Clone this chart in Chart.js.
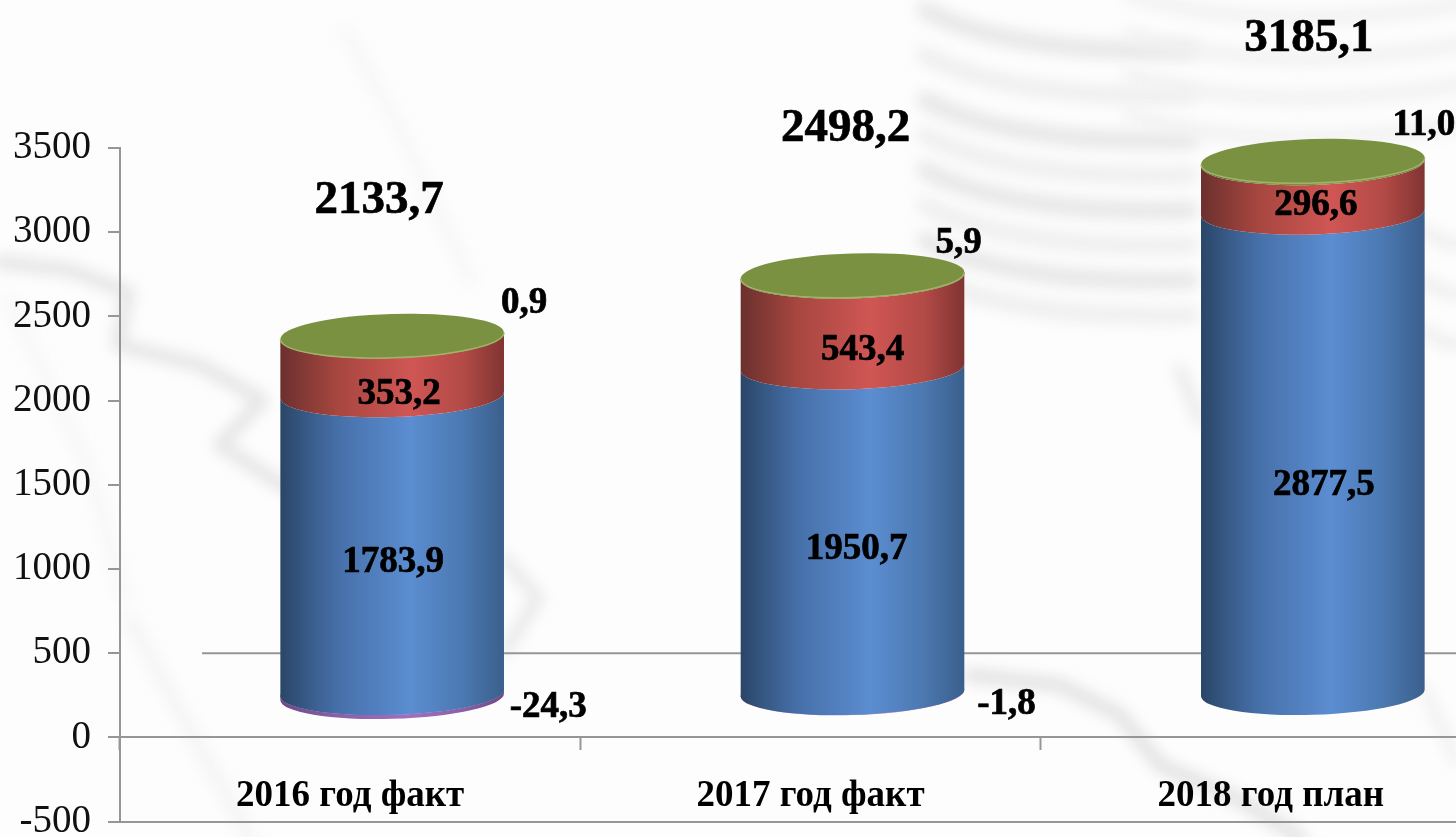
<!DOCTYPE html>
<html lang="ru">
<head>
<meta charset="utf-8">
<title>2016-2018</title>
<script src="https://cdn.jsdelivr.net/npm/chart.js@4/dist/chart.umd.min.js"></script>
<style>
    html, body { margin: 0; padding: 0; background: #fdfdfd; overflow: hidden; }
    #wrap { width: 1456px; height: 837px; overflow: hidden; }
    canvas { display: block; }
</style>
</head>
<body>
<div id="wrap"><canvas id="chart" width="1520" height="862"></canvas></div>
<script>
// Chart data
const categories = ['2016 год факт', '2017 год факт', '2018 год план'];
const blueValues = [1783.9, 1950.7, 2877.5];
const redValues = [353.2, 543.4, 296.6];
const greenValues = [0.9, 5.9, 11.0];
const purpleValues = [-24.3, -1.8, null];
const totals = [2133.7, 2498.2, 3185.1];

// Cylinder look
const depthX = 42;
const depthY = -45;
const capRy = 22;
const capTilt = -0.03;
const serif = '"Liberation Serif", "Times New Roman", serif';
const axisGrey = '#969696';

const shades = {
    blue: ['#2a4668', '#466fa8', '#5b8dd1', '#4b78b0', '#3a5f8c'],
    red: ['#6b302e', '#a6463f', '#d05654', '#b24a46', '#803432'],
    green: ['#5f7832', '#74903c', '#7c9644', '#74903c', '#5f7832'],
    purple: ['#6d4a86', '#8a5fa8', '#a070c0', '#8a5fa8', '#6d4a86']
};

// Hand placed labels, offsets from the middle of the segment
const labelNudge = {
    blue: [[1, 19], [4, 19], [11, 33]],
    red: [[7, 29], [10, 29], [3, 18]],
    green: [[132, -32], [106, -32], [111, -36]],
    purple: [[156, 15], [154, 12], [0, 0]],
    total: [[-13, -135], [-7, -147], [-4, -122]]
};

function formatValue(v) {
    return v.toFixed(1).replace('.', ',');
}

function sideGradient(ctx, cx, rx, stops) {
    const g = ctx.createLinearGradient(cx - rx, 0, cx + rx, 0);
    const at = [0, 0.25, 0.58, 0.82, 1];
    stops.forEach((c, i) => g.addColorStop(at[i], c));
    return g;
}

// Faint picture behind the chart
const backdropPlugin = {
    id: 'backdrop',
    beforeDraw(chart) {
        const ctx = chart.ctx;
        ctx.save();
        ctx.fillStyle = '#fdfdfd';
        ctx.fillRect(0, 0, chart.width, chart.height);
        ctx.filter = 'blur(7px)';
        ctx.lineCap = 'round';
        ctx.lineJoin = 'round';

        function stroke(color, width, pts) {
            ctx.strokeStyle = color;
            ctx.lineWidth = width;
            ctx.beginPath();
            pts.forEach((p, i) => i ? ctx.lineTo(p[0], p[1]) : ctx.moveTo(p[0], p[1]));
            ctx.stroke();
        }

        // price curve on the left
        stroke('#e4e4e4', 13, [[0, 262], [70, 270], [128, 292], [118, 345], [200, 365], [262, 400], [220, 445], [285, 487]]);
        stroke('#e8e8e8', 12, [[505, 560], [538, 598], [505, 650]]);
        stroke('#f4f4f4', 13, [[130, 620], [190, 730], [250, 837]]);
        stroke('#f6f6f6', 11, [[345, 30], [400, 130], [470, 280]]);
        stroke('#f6f6f6', 11, [[10, 300], [90, 470], [125, 600]]);
        // curve at the bottom right
        stroke('#e2e2e2', 14, [[970, 675], [1060, 685], [1120, 715], [1160, 765], [1240, 800], [1300, 837]]);
        stroke('#f0f0f0', 11, [[1425, 690], [1456, 760]]);
        stroke('#eaeaea', 12, [[1180, 370], [1200, 420]]);

        // coin stacks at the top right
        [10, 55, 100, 135, 170, 205, 240, 275].forEach((y, i) => {
            ctx.strokeStyle = i % 2 ? '#eeeeee' : '#e6e6e6';
            ctx.lineWidth = 17;
            ctx.beginPath();
            ctx.moveTo(925, y);
            ctx.quadraticCurveTo(1010, y + 45, 1190, y + 40);
            ctx.stroke();
        });
        [-5, 35, 75, 115].forEach(y => {
            ctx.strokeStyle = '#f1f1f1';
            ctx.lineWidth = 14;
            ctx.beginPath();
            ctx.moveTo(1130, y);
            ctx.quadraticCurveTo(1260, y + 40, 1460, y + 10);
            ctx.stroke();
        });
        [230, 280, 330].forEach(y => {
            ctx.strokeStyle = '#eeeeee';
            ctx.lineWidth = 12;
            ctx.beginPath();
            ctx.moveTo(1425, y);
            ctx.quadraticCurveTo(1440, y + 15, 1460, y + 14);
            ctx.stroke();
        });
        ctx.restore();
    }
};

// Draws the bar elements as cylinders
const cylinderPlugin = {
    id: 'cylinders',
    beforeDatasetsDraw(chart) {
        // the wall gridline starts behind the axis
        const y = chart.scales.y.getPixelForValue(500);
        const ctx = chart.ctx;
        ctx.save();
        ctx.strokeStyle = axisGrey;
        ctx.lineWidth = 2;
        ctx.beginPath();
        ctx.moveTo(chart.chartArea.left + 82, y);
        ctx.lineTo(chart.chartArea.right, y);
        ctx.stroke();
        ctx.restore();
    },
    afterDatasetsDraw(chart) {
        const ctx = chart.ctx;
        const drawOrder = [3, 0, 1, 2];
        drawOrder.forEach(di => {
            const ds = chart.data.datasets[di];
            chart.getDatasetMeta(di).data.forEach((bar, i) => {
                if (ds.data[i] === null) return;
                const cx = bar.x + depthX;
                const rx = bar.width / 2;
                const top = Math.min(bar.y, bar.base) + depthY;
                const bot = Math.max(bar.y, bar.base) + depthY;
                const fill = sideGradient(ctx, cx, rx, shades[ds.shade]);
                ctx.save();
                ctx.beginPath();
                ctx.ellipse(cx, bot, rx, capRy, capTilt, 0, Math.PI);
                ctx.ellipse(cx, top, rx, capRy, capTilt, Math.PI, 0, true);
                ctx.closePath();
                ctx.fillStyle = fill;
                ctx.fill();
                // no seam between the purple ring and the blue body
                if (ds.shade === 'purple') {
                    ctx.beginPath();
                    ctx.ellipse(cx, top, rx, capRy, capTilt, 0, Math.PI * 2);
                    ctx.fill();
                }
                // top of the stack
                if (ds.shade === 'green') {
                    ctx.beginPath();
                    ctx.ellipse(cx, top, rx, capRy, capTilt, 0, Math.PI * 2);
                    ctx.fillStyle = '#7a9142';
                    ctx.fill();
                    ctx.beginPath();
                    ctx.ellipse(cx, top, rx, capRy, capTilt, 0, Math.PI);
                    ctx.strokeStyle = '#a3b26a';
                    ctx.lineWidth = 1.5;
                    ctx.stroke();
                }
                ctx.restore();
            });
        });
    },
    afterDraw(chart) {
        const ctx = chart.ctx;
        ctx.save();
        ctx.fillStyle = '#000';
        ctx.strokeStyle = '#000';
        ctx.lineWidth = 0.7;
        ctx.textAlign = 'center';
        ctx.textBaseline = 'middle';

        function boldText(text, x, y) {
            ctx.fillText(text, x, y);
            ctx.strokeText(text, x, y);
        }

        chart.data.datasets.forEach((ds, di) => {
            chart.getDatasetMeta(di).data.forEach((bar, i) => {
                if (ds.data[i] === null) return;
                const nudge = labelNudge[ds.shade][i];
                let y = (bar.y + bar.base) / 2 + depthY;
                if (ds.shade === 'green') y = bar.y + depthY;
                if (ds.shade === 'purple') y = bar.base + depthY;
                ctx.font = 'bold 37px ' + serif;
                boldText(formatValue(ds.data[i]), bar.x + depthX + nudge[0], y + nudge[1]);
            });
        });

        // totals above each stack
        const topMeta = chart.getDatasetMeta(2);
        totals.forEach((t, i) => {
            const bar = topMeta.data[i];
            const nudge = labelNudge.total[i];
            ctx.font = 'bold 47px ' + serif;
            boldText(formatValue(t), bar.x + depthX + nudge[0], bar.y + depthY + nudge[1]);
        });
        ctx.restore();
    }
};

function makeDataset(data, shade) {
    return {
        data: data,
        shade: shade,
        yAxisID: 'yBars',
        backgroundColor: 'transparent',
        borderWidth: 0,
        stack: 'all',
        categoryPercentage: 0.486,
        barPercentage: 1
    };
}

new Chart(document.getElementById('chart').getContext('2d'), {
    type: 'bar',
    data: {
        labels: categories,
        datasets: [
            makeDataset(blueValues, 'blue'),
            makeDataset(redValues, 'red'),
            makeDataset(greenValues, 'green'),
            makeDataset(purpleValues, 'purple')
        ]
    },
    options: {
        responsive: false,
        animation: false,
        layout: { padding: { top: 148, bottom: 14, left: 0, right: 19 } },
        plugins: { legend: { display: false }, tooltip: { enabled: false }, title: { display: false } },
        scales: {
            x: {
                stacked: true,
                position: { y: 0 },
                offset: true,
                afterFit(scale) { scale.height = 0; },
                border: { color: axisGrey, width: 2 },
                grid: { drawOnChartArea: false, tickLength: 12, tickColor: axisGrey, tickWidth: 2, offset: true },
                ticks: {
                    padding: 25,
                    color: '#000',
                    maxRotation: 0,
                    font: { family: serif, size: 37, weight: 'bold' }
                }
            },
            y: {
                min: -500,
                max: 3500,
                afterFit(scale) { scale.width = 120; },
                border: { color: axisGrey, width: 2 },
                grid: {
                    tickLength: 12,
                    tickColor: axisGrey,
                    tickWidth: 2,
                    lineWidth: 2,
                    color: c => (c.tick && (c.tick.value === 0 || c.tick.value === -500)) ? axisGrey : 'transparent'
                },
                ticks: {
                    stepSize: 500,
                    padding: 17,
                    color: '#111',
                    font: { family: serif, size: 39 },
                    callback: v => String(v)
                }
            },
            // the 3D box of the original squeezes the bars a little against the printed axis
            yBars: {
                display: false,
                stacked: true,
                min: -502,
                max: 3533
            }
        }
    },
    plugins: [backdropPlugin, cylinderPlugin]
});
</script>
</body>
</html>
